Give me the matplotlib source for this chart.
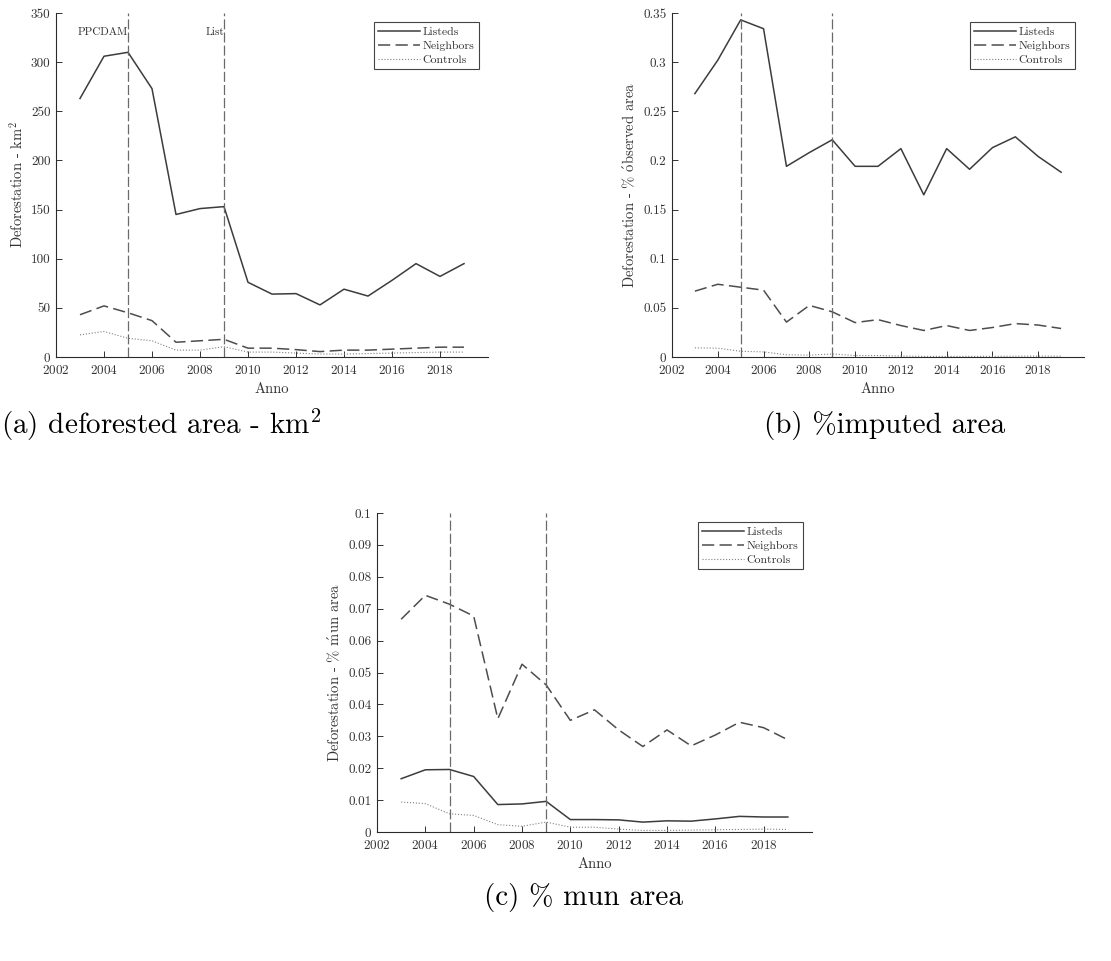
import numpy as np
import matplotlib as mpl
mpl.use("Agg")
import matplotlib.pyplot as plt
from matplotlib.ticker import FuncFormatter

mpl.rcParams['font.family'] = 'serif'
mpl.rcParams['font.serif'] = ['cmr10']
mpl.rcParams['mathtext.fontset'] = 'cm'
mpl.rcParams['axes.formatter.use_mathtext'] = True
mpl.rcParams['axes.unicode_minus'] = False

years = list(range(2003, 2020))
events = [2005, 2009]
event_labels = ['PPCDAM', 'List']
series_names = ['Listeds', 'Neighbors', 'Controls']

# (a) deforested area, km2
km_listeds = [263, 306, 310, 273, 145, 151, 153, 76, 64, 64.5, 53, 69, 62, 78, 95, 82, 95]
km_neighbors = [43, 52, 45, 37, 15, 16.5, 18, 9, 9, 7.5, 5.5, 7, 7, 8, 9, 10, 10]
km_controls = [22.5, 26, 19, 16.5, 7, 7, 10.5, 5, 5, 4, 3, 3, 3.5, 4, 4.5, 5, 5]

# (b) % of observed area
obs_listeds = [0.268, 0.302, 0.343, 0.334, 0.194, 0.208, 0.221, 0.194, 0.194, 0.212,
               0.165, 0.212, 0.191, 0.213, 0.224, 0.204, 0.188]
obs_neighbors = [0.067, 0.074, 0.071, 0.068, 0.0355, 0.0525, 0.046, 0.035, 0.038, 0.032,
                 0.027, 0.032, 0.027, 0.030, 0.034, 0.0325, 0.029]
obs_controls = [0.0093, 0.009, 0.0058, 0.0052, 0.0023, 0.0019, 0.0031, 0.0015, 0.0015, 0.001,
                0.0006, 0.0006, 0.0006, 0.0007, 0.0008, 0.0009, 0.0008]

# (c) % of municipality area
mun_listeds = [0.0167, 0.0195, 0.0196, 0.0174, 0.0086, 0.0088, 0.0096, 0.0039, 0.0039, 0.0038,
               0.0031, 0.0035, 0.0034, 0.0041, 0.0049, 0.0047, 0.0047]
mun_neighbors = [0.0667, 0.0742, 0.0714, 0.0677, 0.0355, 0.0526, 0.0461, 0.035, 0.0383, 0.032,
                 0.0268, 0.032, 0.027, 0.0304, 0.0344, 0.0327, 0.0289]
mun_controls = [0.0094, 0.0089, 0.0057, 0.0052, 0.0023, 0.0018, 0.0031, 0.0015, 0.0015, 0.0009,
                0.0005, 0.0005, 0.0006, 0.0007, 0.0008, 0.0009, 0.0008]

dpi = 100
fig = plt.figure(dpi=dpi, figsize=(1111 / dpi, 961 / dpi))

styles = [dict(color='#3c3c3c', lw=1.1, ls='-'),
          dict(color='#4d4d4d', lw=1.1, dashes=(8, 3.5)),
          dict(color='#808080', lw=0.8, ls=':')]


def panel(rect, data, ylim, ystep, ylabel, caption, cap_xy, notes=False):
    ax = fig.add_axes(rect)
    for vals, name, st in zip(data, series_names, styles):
        ax.plot(years, vals, label=name, **st)
    for ev in events:
        ax.axvline(ev, color='#6a6a6a', lw=0.9, dashes=(8, 2.5))
    if notes:
        for ev, txt in zip(events, event_labels):
            ax.text(ev, ylim * 0.943, txt, ha='right', va='center', fontsize=8, color='#333333')
    ax.set_xlim(2002, 2020)
    ax.set_ylim(0, ylim)
    ax.set_xticks(range(2002, 2020, 2))
    ax.set_yticks(np.arange(0, ylim + ystep / 2, ystep))
    ax.yaxis.set_major_formatter(FuncFormatter(lambda v, p: '%g' % round(v, 4)))
    ax.tick_params(direction='in', length=4, width=0.7, labelsize=9.5, colors='#333333')
    ax.tick_params(axis='x', pad=5)
    ax.tick_params(axis='y', pad=4)
    for s in ['top', 'right']:
        ax.spines[s].set_visible(False)
    for s in ['left', 'bottom']:
        ax.spines[s].set_color('#2a2a2a')
        ax.spines[s].set_linewidth(0.8)
    ax.set_xlabel('Anno', fontsize=10.5, color='#333333', labelpad=4)
    ax.set_ylabel(ylabel, fontsize=10.5, color='#333333', labelpad=4)
    leg = ax.legend(loc='upper right', fontsize=8.5, handlelength=3.6,
                    handletextpad=0.2, labelspacing=0.32, borderpad=0.35, fancybox=False,
                    framealpha=1, edgecolor='#444444', borderaxespad=0.8)
    leg.get_frame().set_linewidth(0.8)
    for t in leg.get_texts():
        t.set_color('#333333')
    fig.text(cap_xy[0], cap_xy[1], caption, ha='center', va='center', fontsize=21)
    return ax


panel([56 / 1111, 1 - 357 / 961, 432 / 1111, 344 / 961],
      [km_listeds, km_neighbors, km_controls], 350, 50,
      'Deforestation - km$^2$', '(a) deforested area - km$^2$',
      (161 / 1111, 1 - 425 / 961), notes=True)

panel([672 / 1111, 1 - 357 / 961, 412 / 1111, 344 / 961],
      [obs_listeds, obs_neighbors, obs_controls], 0.35, 0.05,
      r'Deforestation - % $\acute{\mathrm{o}}$bserved area', '(b) %imputed area',
      (885 / 1111, 1 - 425 / 961))

panel([377 / 1111, 1 - 832 / 961, 435 / 1111, 319 / 961],
      [mun_listeds, mun_neighbors, mun_controls], 0.1, 0.01,
      r'Deforestation - % $\acute{\mathrm{m}}$un area', '(c) % mun area',
      (583 / 1111, 1 - 898 / 961))

fig.savefig('out.png', dpi=dpi, facecolor='white')
